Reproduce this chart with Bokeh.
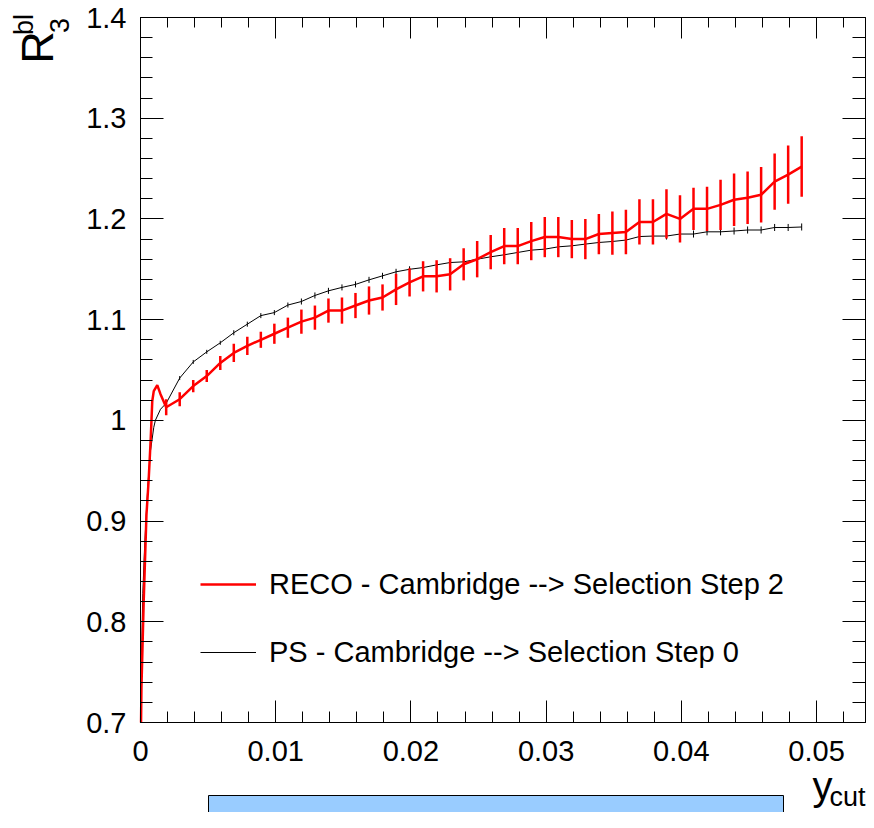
import math
from bokeh.plotting import figure
from bokeh.models import (Range1d, LinearAxis, FixedTicker, CustomJSTickFormatter,
                          Legend, LegendItem, Label, BoxAnnotation)
from bokeh.embed import file_html
from bokeh.resources import INLINE

# ---------------- data ----------------
reco_fine_x = [0.00004, 0.00007, 0.00024, 0.00044, 0.0006, 0.00075, 0.00087, 0.00098, 0.00124, 0.00148]
reco_fine_y = [0.700, 0.735, 0.822, 0.906, 0.940, 0.980, 1.019, 1.029, 1.035, 1.026]

ps_fine_x = [0.00003, 0.00007, 0.00017, 0.0003, 0.00044, 0.00057, 0.00074, 0.00098, 0.0011, 0.00148]
ps_fine_y = [0.700, 0.761, 0.828, 0.873, 0.910, 0.940, 0.970, 0.993, 1.000, 1.011]

ycut = [0.0019, 0.0029, 0.0039, 0.0049, 0.0059, 0.0069, 0.0079, 0.0089, 0.0099, 0.0109,
        0.0119, 0.0129, 0.0139, 0.0149, 0.0159, 0.0169, 0.0179, 0.0189, 0.0199, 0.0209,
        0.0219, 0.0229, 0.0239, 0.0249, 0.0259, 0.0269, 0.0279, 0.0289, 0.0299, 0.0309,
        0.0319, 0.0329, 0.0339, 0.0349, 0.0359, 0.0369, 0.0379, 0.0389, 0.0399, 0.0409,
        0.0419, 0.0429, 0.0439, 0.0449, 0.0459, 0.0469, 0.0479, 0.0489]

reco_y = [1.013, 1.021, 1.034, 1.044, 1.057, 1.067, 1.074, 1.080, 1.086, 1.092,
          1.098, 1.102, 1.109, 1.109, 1.114, 1.119, 1.122, 1.130, 1.137, 1.143,
          1.143, 1.145, 1.155, 1.160, 1.167, 1.173, 1.173, 1.178, 1.182, 1.182,
          1.180, 1.180, 1.185, 1.186, 1.187, 1.197, 1.197, 1.205, 1.200, 1.210,
          1.210, 1.214, 1.219, 1.221, 1.224, 1.237, 1.244, 1.252]
reco_err = [0.008, 0.007, 0.006, 0.006, 0.007, 0.009, 0.009, 0.008, 0.010, 0.010,
            0.012, 0.012, 0.012, 0.013, 0.0125, 0.014, 0.013, 0.0155, 0.014, 0.015,
            0.016, 0.016, 0.016, 0.018, 0.017, 0.018, 0.018, 0.019, 0.020, 0.020,
            0.019, 0.020, 0.020, 0.0215, 0.022, 0.0225, 0.0225, 0.0245, 0.0235, 0.021,
            0.022, 0.025, 0.026, 0.026, 0.0275, 0.028, 0.029, 0.030]

ps_y = [1.017, 1.042, 1.058, 1.068, 1.077, 1.087, 1.0955, 1.104, 1.107, 1.1145,
        1.118, 1.124, 1.1286, 1.132, 1.135, 1.1395, 1.1435, 1.1475, 1.150, 1.1517,
        1.1544, 1.1567, 1.1574, 1.160, 1.1624, 1.1644, 1.1667, 1.169, 1.170, 1.1723,
        1.1733, 1.175, 1.1766, 1.1776, 1.179, 1.1825, 1.183, 1.183, 1.185, 1.185,
        1.1872, 1.1872, 1.188, 1.189, 1.189, 1.1915, 1.1915, 1.192]
ps_err = [0.002, 0.002, 0.002, 0.002, 0.002, 0.0025, 0.0025, 0.0025, 0.0025, 0.0025,
          0.003, 0.003, 0.003, 0.003, 0.003, 0.003, 0.003, 0.003, 0.003, 0.003,
          0.003, 0.003, 0.003, 0.003, 0.003, 0.003, 0.003, 0.003, 0.003, 0.003,
          0.003, 0.003, 0.003, 0.003, 0.003, 0.003, 0.003, 0.0035, 0.0035, 0.0035,
          0.0035, 0.0035, 0.0035, 0.0035, 0.0035, 0.0035, 0.0035, 0.0035]

x_ticks = [0, 0.01, 0.02, 0.03, 0.04, 0.05]
y_ticks = [0.7, 0.8, 0.9, 1.0, 1.1, 1.2, 1.3, 1.4]
x_minor = [round(i * 0.002, 4) for i in range(27)]
y_minor = [round(0.7 + i * 0.02, 4) for i in range(36)]

reco_label = "RECO - Cambridge --> Selection Step 2"
ps_label = "PS - Cambridge --> Selection Step 0"

FONT = "Liberation Sans"

# ---------------- geometry ----------------
W, H = 866, 812
X_MIN, X_MAX = 0.0, 0.05362      # axis box
Y_MIN, Y_MAX = 0.7, 1.4
BOX_L, BOX_R, BOX_T, BOX_B = 140, 865, 17, 722   # axis box in canvas px
sx = (BOX_R - BOX_L) / (X_MAX - X_MIN)
sy = (BOX_B - BOX_T) / (Y_MAX - Y_MIN)
x_range = Range1d(X_MIN - BOX_L / sx, X_MAX + (W - BOX_R) / sx)
y_range = Range1d(Y_MIN - (H - BOX_B) / sy, Y_MAX + BOX_T / sy)

p = figure(width=W, height=H, x_range=x_range, y_range=y_range,
           output_backend="svg", toolbar_location=None, min_border=0,
           x_axis_type=None, y_axis_type=None)
p.grid.visible = False
p.outline_line_color = None
p.background_fill_color = "white"
p.border_fill_color = "white"

fmt = CustomJSTickFormatter(code="return String(parseFloat(tick.toPrecision(6)));")
blank = CustomJSTickFormatter(code="return '';")

def make_axis(ticks, minor, loc, bounds, labels, major, minor_len):
    ax = LinearAxis(ticker=FixedTicker(ticks=ticks, minor_ticks=minor),
                    fixed_location=loc, bounds=bounds)
    ax.axis_line_color = "black"
    ax.axis_line_width = 1
    ax.major_tick_in = major
    ax.major_tick_out = 0
    ax.minor_tick_in = minor_len
    ax.minor_tick_out = 0
    ax.major_tick_line_color = "black"
    ax.minor_tick_line_color = "black"
    if labels:
        ax.formatter = fmt
        ax.major_label_text_font = FONT
        ax.major_label_text_font_size = "29px"
        ax.major_label_text_color = "black"
        ax.major_label_standoff = 14
    else:
        ax.formatter = blank
        ax.major_label_text_font_size = "1px"
        ax.major_label_standoff = 0
    return ax

xb = make_axis(x_ticks, x_minor, Y_MIN, (X_MIN, X_MAX), True, 22, 11)
xb.major_label_standoff = 18
xt = make_axis(x_ticks, x_minor, Y_MAX, (X_MIN, X_MAX), False, 21, 10)
yl = make_axis(y_ticks, y_minor, X_MIN, (Y_MIN, Y_MAX), True, 23, 12)
yr = make_axis(y_ticks, y_minor, X_MAX, (Y_MIN, Y_MAX), False, 23, 13)
p.add_layout(xb, "below")
p.add_layout(xt, "above")
p.add_layout(yl, "left")
p.add_layout(yr, "right")

# ---------------- data glyphs ----------------
ps_line = p.line(ps_fine_x + ycut, ps_fine_y + ps_y, line_color="black", line_width=1)
p.segment(x0=ycut, x1=ycut,
          y0=[v - e for v, e in zip(ps_y, ps_err)], y1=[v + e for v, e in zip(ps_y, ps_err)],
          line_color="black", line_width=1)

reco_line = p.line(reco_fine_x + ycut, reco_fine_y + reco_y, line_color="red", line_width=2.5)
p.segment(x0=ycut, x1=ycut,
          y0=[v - e for v, e in zip(reco_y, reco_err)], y1=[v + e for v, e in zip(reco_y, reco_err)],
          line_color="red", line_width=2.5)

# ---------------- legend ----------------
legend = Legend(items=[LegendItem(label=reco_label, renderers=[reco_line]),
                       LegendItem(label=ps_label, renderers=[ps_line])],
                location=(200, 142), border_line_color=None, background_fill_alpha=0,
                padding=0, margin=0, glyph_width=56, glyph_height=36, label_height=36,
                spacing=32, label_standoff=13, label_text_font=FONT,
                label_text_font_size="29px", label_text_color="black")
p.add_layout(legend)

# ---------------- titles (screen px from bottom-left of canvas) ----------------
def lab(text, x, y_from_top, size, **kw):
    return Label(x=x, y=H - y_from_top, x_units="screen", y_units="screen", text=text,
                 text_font=FONT, text_font_size=size, text_color="black", **kw)

rot = dict(angle=math.pi / 2, text_align="center", text_baseline="middle")
p.add_layout(lab("R", 37, 47, "45px", **rot))
p.add_layout(lab("bl", 23, 24, "27px", **rot))
p.add_layout(lab("3", 59, 25, "27px", **rot))
p.add_layout(lab("y", 812, 785, "40px", text_align="left", text_baseline="middle"))
p.add_layout(lab("cut", 829, 796, "27px", text_align="left", text_baseline="middle"))

# light blue bar under the plot
p.add_layout(BoxAnnotation(left=208, right=783, top=H - 795, bottom=-20,
                           left_units="screen", right_units="screen",
                           top_units="screen", bottom_units="screen",
                           fill_color="#99ccff", fill_alpha=1.0,
                           line_color="black", line_width=1, line_alpha=1.0))

open("out.html", "w").write(file_html(p, INLINE))
